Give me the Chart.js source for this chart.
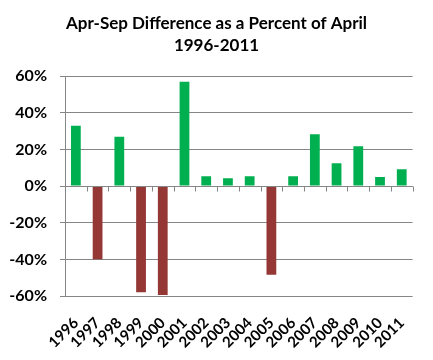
<!DOCTYPE html>
<html><head><meta charset="utf-8">
<script src="https://cdn.jsdelivr.net/npm/chart.js@4"></script>
<style>html,body{margin:0;padding:0;background:#fff}#wrap{width:433px;height:360px}</style>
</head><body><div id="wrap"><canvas id="c"></canvas></div>
<script>
const categories = ['1996','1997','1998','1999','2000','2001','2002','2003','2004','2005','2006','2007','2008','2009','2010','2011'];
const values = [33, -40, 27, -58, -59.5, 57, 5.4, 4.3, 5.4, -48.4, 5.4, 28.3, 12.5, 21.7, 4.9, 9.2];
const yTicks = [-60, -40, -20, 0, 20, 40, 60];
const titleLines = ['Apr-Sep Difference as a Percent of April', '1996-2011'];

const GREEN = '#00B050', RED = '#953735', GRID = '#868686';
const FONT = 'Lato, "Open Sans", sans-serif';

const zeroAxis = {
  id: 'zeroAxis',
  afterDatasetsDraw(chart) {
    const {ctx, chartArea, scales} = chart;
    const y0 = Math.round(scales.y.getPixelForValue(0)) + 0.5;
    ctx.save();
    ctx.strokeStyle = GRID; ctx.lineWidth = 1;
    ctx.beginPath();
    ctx.moveTo(chartArea.left, y0); ctx.lineTo(chartArea.right, y0);
    const n = categories.length;
    for (let i = 1; i <= n; i++) {
      let x;
      if (i === n) x = chartArea.right;
      else x = (scales.x.getPixelForValue(i - 1) + scales.x.getPixelForValue(i)) / 2;
      x = Math.round(x) + 0.5;
      ctx.moveTo(x, y0); ctx.lineTo(x, y0 + 5);
    }
    ctx.stroke();
    ctx.restore();
  }
};

new Chart(document.getElementById('c'), {
  type: 'bar',
  data: {
    labels: categories,
    datasets: [{
      data: values,
      yAxisID: 'y',
      backgroundColor: values.map(v => v >= 0 ? GREEN : RED),
      barPercentage: 0.45,
      categoryPercentage: 1.0
    }]
  },
  options: {
    responsive: true,
    maintainAspectRatio: false,
    animation: false,
    layout: {padding: {left: 0, right: 0, top: 6, bottom: 0}},
    plugins: {
      legend: {display: false},
      tooltip: {enabled: false},
      title: {
        display: true,
        text: titleLines,
        color: '#000',
        font: {family: FONT, size: 17, weight: 'bold', lineHeight: 1.3},
        padding: {top: 6, bottom: 20}
      }
    },
    scales: {
      x: {
        offset: true,
        grid: {display: false, drawTicks: false},
        border: {display: false},
        ticks: {
          color: '#000', minRotation: 45, maxRotation: 45, autoSkip: false, padding: 18,
          font: {family: FONT, size: 15, weight: 'bold'}
        },
        afterFit(s) { s.height = 64; }
      },
      y: {
        min: -60, max: 60,
        afterBuildTicks(s) { s.ticks = yTicks.map(v => ({value: v})); },
        grid: {color: GRID, tickLength: 5, drawTicks: true},
        border: {display: true, color: GRID},
        ticks: {
          color: '#000', padding: 13,
          font: {family: FONT, size: 16, weight: 'bold'},
          callback: v => v + '%'
        },
        afterFit(s) { s.width = 65; }
      },
      yRight: {
        position: 'right',
        display: true,
        min: -60, max: 60,
        grid: {display: false, drawTicks: false},
        border: {display: false},
        ticks: {display: false},
        afterFit(s) { s.width = 17; }
      }
    }
  },
  plugins: [zeroAxis]
});
</script>
</body></html>
